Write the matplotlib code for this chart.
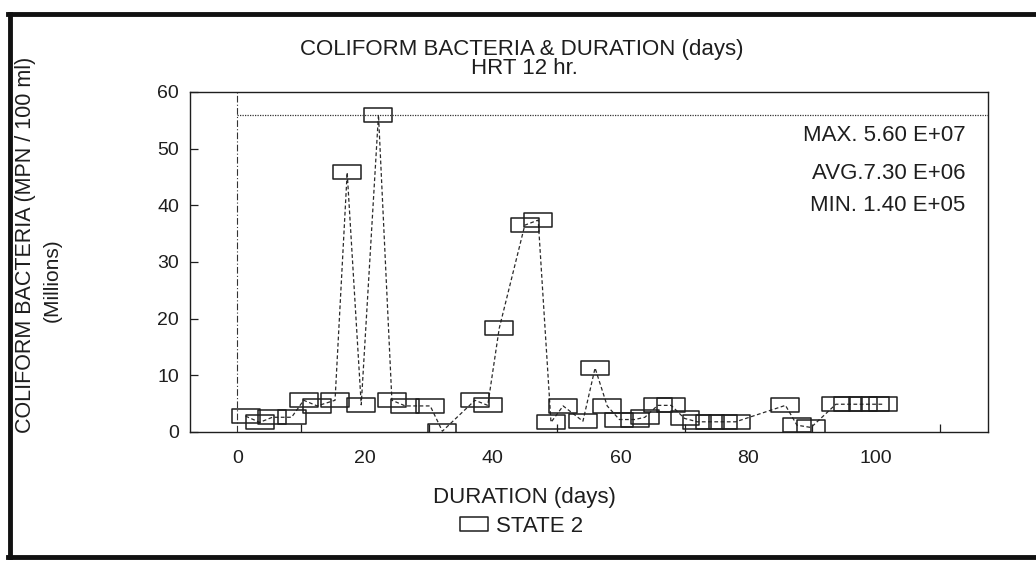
import matplotlib
matplotlib.use("Agg")
import matplotlib.pyplot as plt
from matplotlib.path import Path
from matplotlib.lines import Line2D
import numpy as np

# data (days, millions MPN/100 ml)
days = [1.3, 3.5, 5.5, 8.5, 10.4, 12.5, 15.3, 17.2, 19.4, 22.1, 24.2, 26.3,
        30.2, 32.1, 37.2, 39.2, 41.0, 45.0, 47.1, 49.1, 51.0, 54.1, 56.0, 57.9,
        59.8, 62.2, 63.8, 65.8, 67.9, 70.0, 72.0, 74.0, 76.0, 78.0,
        85.8, 87.6, 89.8, 93.7, 95.6, 97.9, 99.8, 101.0]
coliform = [2.8, 1.7, 2.6, 2.6, 5.6, 4.6, 5.6, 45.8, 4.8, 56.0, 5.6, 4.6,
            4.6, 0.14, 5.6, 4.7, 18.3, 36.5, 37.4, 1.7, 4.6, 1.9, 11.3, 4.6,
            2.2, 2.2, 2.6, 4.7, 4.7, 2.4, 1.8, 1.8, 1.8, 1.8,
            4.7, 1.2, 0.8, 4.9, 4.9, 4.9, 4.9, 4.9]
max_level = 56.0
stats_text = ["MAX. 5.60 E+07", "AVG.7.30 E+06", "MIN. 1.40 E+05"]
x_labels = [0, 20, 40, 60, 80, 100]
y_labels = [0, 10, 20, 30, 40, 50, 60]

plt.rcParams['font.family'] = ['Liberation Sans', 'DejaVu Sans']
ink = '#1e1e1e'

# flat rectangle marker like the old plotter box
rect = Path([(-1, -0.5), (1, -0.5), (1, 0.5), (-1, 0.5), (-1, -0.5)],
            [Path.MOVETO, Path.LINETO, Path.LINETO, Path.LINETO, Path.CLOSEPOLY])

fig = plt.figure(figsize=(10.36, 5.62), dpi=100)
ax = fig.add_axes([190/1036, 130/562, 798/1036, 340/562])

ax.plot(days, coliform, linestyle=(0, (3, 2)), linewidth=0.9, color='#2a2a2a',
        marker=rect, markersize=19.5, markerfacecolor='none',
        markeredgecolor=ink, markeredgewidth=1.1)

# reference lines: day 0 and the maximum
ax.axvline(0, color='#333333', linewidth=0.8, linestyle=(0, (6, 2, 1, 2)))
ax.plot([0, 117.5], [max_level, max_level], color='#333333', linewidth=0.9,
        linestyle=(0, (1, 1)))

ax.set_xlim(-7.4, 117.5)
ax.set_ylim(0, 60)
ax.set_xticks(np.arange(10, 120, 10), minor=True)
ax.set_xticks(x_labels)
ax.set_yticks(y_labels)
ax.tick_params(which='both', direction='in', length=6, width=0.9, color=ink,
               labelsize=14, labelcolor=ink)
ax.tick_params(axis='x', which='major', length=0, pad=13)
ax.tick_params(axis='y', pad=8)
for s in ax.spines.values():
    s.set_linewidth(1.0)
    s.set_color(ink)

for i, t in enumerate(stats_text):
    ax.text(114, [52.4, 45.7, 40.0][i], t, ha='right', va='center',
            fontsize=16, color=ink)

fig.text(522/1036, 1 - 49/562, "COLIFORM BACTERIA & DURATION (days)",
         ha='center', va='center', fontsize=16, color=ink)
fig.text(524/1036, 1 - 68/562, "HRT 12 hr.", ha='center', va='center',
         fontsize=16, color=ink)
fig.text(524/1036, 1 - 498/562, "DURATION (days)", ha='center', va='center',
         fontsize=16, color=ink)
fig.text(26/1036, 1 - 245/562, "COLIFORM BACTERIA (MPN / 100 ml)",
         rotation=90, ha='center', va='center', fontsize=15.5, color=ink)
fig.text(52/1036, 1 - 280/562, "(Millions)", rotation=90, ha='center',
         va='center', fontsize=15, color=ink)

handle = Line2D([], [], linestyle='none', marker=rect, markersize=19.5,
                markerfacecolor='none', markeredgecolor=ink, markeredgewidth=1.1)
fig.legend([handle], ["STATE 2"], loc='center', bbox_to_anchor=(0.503, 1 - 526/562),
           frameon=False, fontsize=16, handlelength=1.4, handletextpad=0.3,
           labelcolor=ink)

# thick border of the scanned page
fig.add_artist(Line2D([10/1036, 10/1036], [1 - 14/562, 1 - 557/562],
                      transform=fig.transFigure, color='#111111', linewidth=3.5))
fig.add_artist(Line2D([8/1036, 1.0], [1 - 14/562, 1 - 14/562],
                      transform=fig.transFigure, color='#111111', linewidth=3.5))
fig.add_artist(Line2D([8/1036, 1.0], [1 - 557/562, 1 - 557/562],
                      transform=fig.transFigure, color='#111111', linewidth=3.5))

fig.savefig("out.png", dpi=100)
